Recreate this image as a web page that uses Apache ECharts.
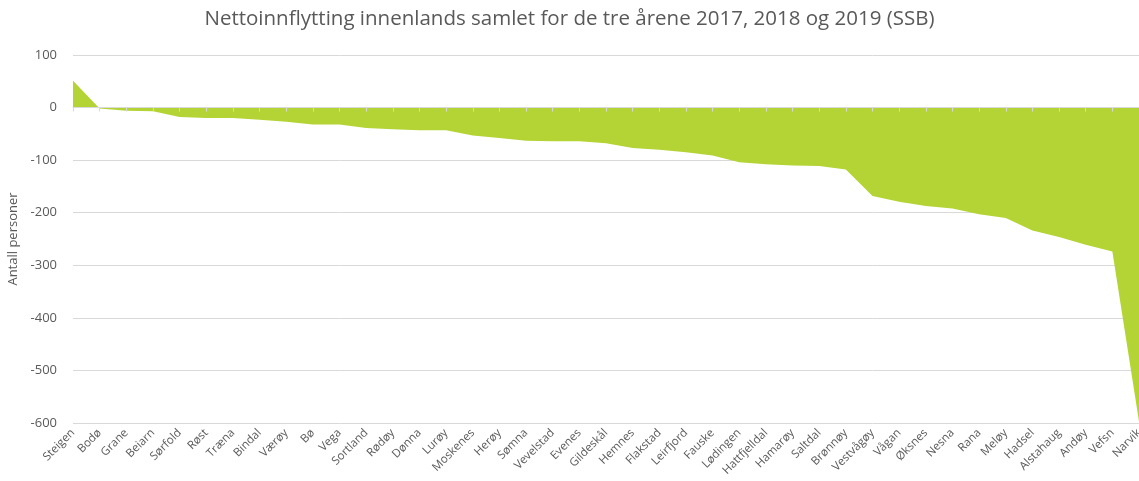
<!DOCTYPE html>
<html><head><meta charset="utf-8">
<script src="https://cdn.jsdelivr.net/npm/echarts@6/dist/echarts.min.js"></script>
<style>html,body{margin:0;padding:0;background:#fff}#c{width:1139px;height:481px}</style>
</head><body><div id="c"></div>
<script>
const categories = ["Steigen","Bodø","Grane","Beiarn","Sørfold","Røst","Træna","Bindal","Værøy","Bø","Vega","Sortland","Rødøy","Dønna","Lurøy","Moskenes","Herøy","Sømna","Vevelstad","Evenes","Gildeskål","Hemnes","Flakstad","Leirfjord","Fauske","Lødingen","Hattfjelldal","Hamarøy","Saltdal","Brønnøy","Vestvågøy","Vågan","Øksnes","Nesna","Rana","Meløy","Hadsel","Alstahaug","Andøy","Vefsn","Narvik"];
const values = [51,-2,-6,-7,-18,-20,-20,-23,-27,-32,-32,-39,-41,-43,-43,-53,-58,-63,-64,-64,-68,-77,-80,-85,-91,-104,-108,-110,-111,-118,-168,-179,-187,-192,-203,-210,-234,-246,-261,-274,-597];
const yTicks = {min:-600, max:100, interval:100};
const chart = echarts.init(document.getElementById('c'));
const font = "'Open Sans', sans-serif";
chart.setOption({
  animation:false,
  title:{text:'Nettoinnflytting innenlands samlet for de tre årene 2017, 2018 og 2019 (SSB)', left:'center', top:4,
    textStyle:{fontFamily:font, fontSize:20.5, fontWeight:'normal', color:'#595959'}},
  grid:{left:73, right:0, top:55, bottom:58, outerBoundsMode:'none', containLabel:false},
  xAxis:[{type:'category', data:categories, boundaryGap:false, position:'bottom',
      axisLine:{show:false, onZero:false}, axisTick:{show:false},
      axisLabel:{rotate:45, interval:0, fontFamily:font, fontSize:11.5, color:'#595959', margin:8}},
    {type:'category', data:categories, boundaryGap:false, position:'top', z:5,
      axisLine:{show:true, onZero:true, lineStyle:{color:'#d9d9d9'}}, axisTick:{show:true, inside:true, length:4, interval:0, lineStyle:{color:'#d9d9d9'}},
      axisLabel:{show:false}}],
  yAxis:{type:'value', min:yTicks.min, max:yTicks.max, interval:yTicks.interval,
    name:'Antall personer', nameLocation:'middle', nameGap:47, nameRotate:90,
    nameTextStyle:{fontFamily:font, fontSize:13, color:'#595959'},
    axisLine:{show:false}, axisTick:{show:false},
    axisLabel:{fontFamily:font, fontSize:13, color:'#595959', margin:16},
    splitLine:{lineStyle:{color:'#d9d9d9', width:1}}},
  series:[{type:'line', data:values, xAxisIndex:0, symbol:'none', lineStyle:{width:0},
    areaStyle:{color:'#b4d334', opacity:1}, itemStyle:{color:'#b4d334'}, z:1},
    {type:'line', data:[], xAxisIndex:1}]
});
</script></body></html>
